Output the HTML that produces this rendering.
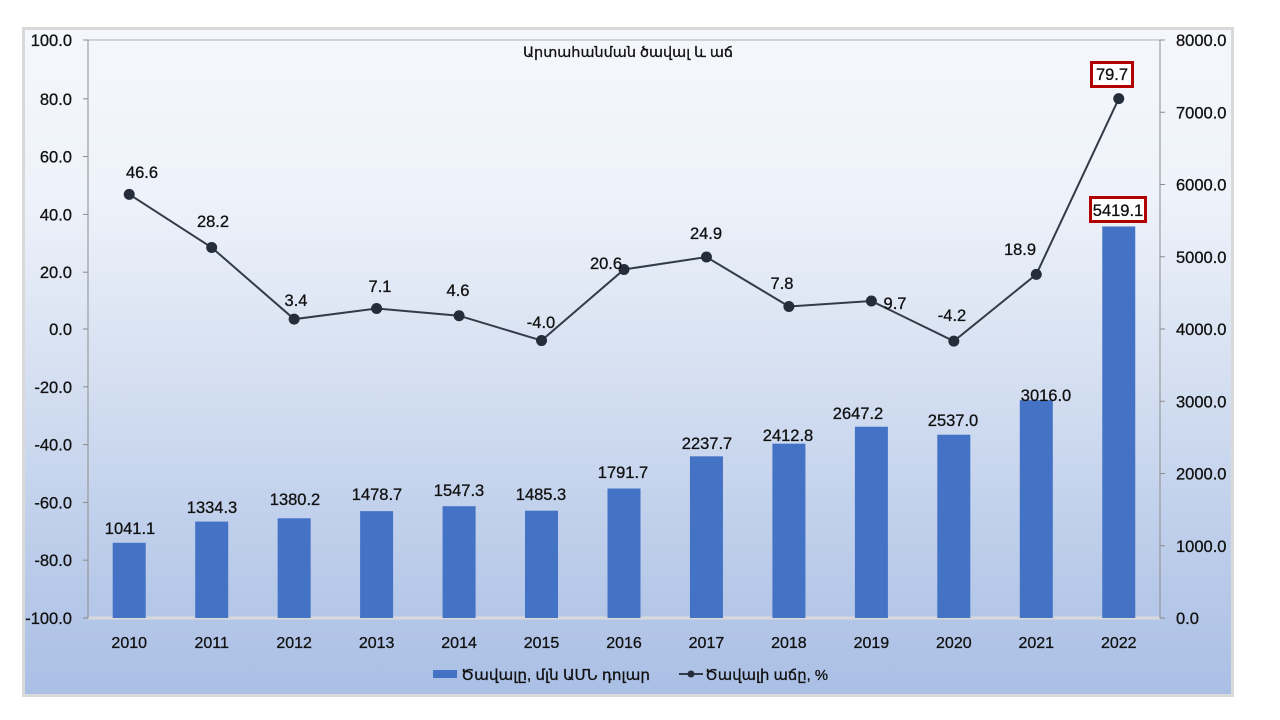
<!DOCTYPE html>
<html>
<head>
<meta charset="utf-8">
<style>
  html,body{margin:0;padding:0;background:#ffffff;}
  svg{display:block;}
  text{font-family:"Liberation Sans","DejaVu Sans",sans-serif;fill:#111;stroke:#111;stroke-width:0.3;}
</style>
</head>
<body>
<svg width="1280" height="720" viewBox="0 0 1280 720" xmlns="http://www.w3.org/2000/svg">
  <defs>
    <linearGradient id="bg" x1="0" y1="0" x2="0" y2="1">
      <stop offset="0" stop-color="#f5f7fc"/>
      <stop offset="0.25" stop-color="#eef2fa"/>
      <stop offset="0.5" stop-color="#d7e1f2"/>
      <stop offset="0.75" stop-color="#bfcfeb"/>
      <stop offset="1" stop-color="#aabfe5"/>
    </linearGradient>
  </defs>
  <rect x="0" y="0" width="1280" height="720" fill="#ffffff"/>
  <rect x="23.5" y="28.5" width="1209" height="667" fill="url(#bg)" stroke="#d9d9d9" stroke-width="3"/>

  <!-- plot borders -->
  <line x1="88" y1="40" x2="1160" y2="40" stroke="#d3d3d3" stroke-width="2"/>
  <line x1="88" y1="618" x2="1160" y2="618" stroke="#d9d9d9" stroke-width="3"/>
  <line x1="88" y1="40" x2="88" y2="618" stroke="#8c8c8c" stroke-width="1"/>
  <line x1="1160" y1="40" x2="1160" y2="618" stroke="#8c8c8c" stroke-width="1"/>

  <!-- ticks -->
  <g stroke="#8c8c8c" stroke-width="1">
    <line x1="83" y1="40" x2="88" y2="40"/>
    <line x1="83" y1="98.8" x2="88" y2="98.8"/>
    <line x1="83" y1="156.6" x2="88" y2="156.6"/>
    <line x1="83" y1="214.4" x2="88" y2="214.4"/>
    <line x1="83" y1="272.2" x2="88" y2="272.2"/>
    <line x1="83" y1="329" x2="88" y2="329"/>
    <line x1="83" y1="386.8" x2="88" y2="386.8"/>
    <line x1="83" y1="444.6" x2="88" y2="444.6"/>
    <line x1="83" y1="502.4" x2="88" y2="502.4"/>
    <line x1="83" y1="560.2" x2="88" y2="560.2"/>
    <line x1="83" y1="618" x2="88" y2="618"/>
    <line x1="1160" y1="40" x2="1165" y2="40"/>
    <line x1="1160" y1="112.25" x2="1165" y2="112.25"/>
    <line x1="1160" y1="184.5" x2="1165" y2="184.5"/>
    <line x1="1160" y1="256.75" x2="1165" y2="256.75"/>
    <line x1="1160" y1="329" x2="1165" y2="329"/>
    <line x1="1160" y1="401.25" x2="1165" y2="401.25"/>
    <line x1="1160" y1="473.5" x2="1165" y2="473.5"/>
    <line x1="1160" y1="545.75" x2="1165" y2="545.75"/>
    <line x1="1160" y1="618" x2="1165" y2="618"/>
  </g>

  <!-- left axis labels -->
  <g font-size="16.5" text-anchor="end">
    <text x="72" y="46">100.0</text>
    <text x="72" y="104.8">80.0</text>
    <text x="72" y="162.6">60.0</text>
    <text x="72" y="220.4">40.0</text>
    <text x="72" y="278.2">20.0</text>
    <text x="72" y="335">0.0</text>
    <text x="72" y="392.8">-20.0</text>
    <text x="72" y="450.6">-40.0</text>
    <text x="72" y="508.4">-60.0</text>
    <text x="72" y="566.2">-80.0</text>
    <text x="72" y="624">-100.0</text>
  </g>
  <!-- right axis labels -->
  <g font-size="16.5" text-anchor="start">
    <text x="1176" y="46">8000.0</text>
    <text x="1176" y="118.25">7000.0</text>
    <text x="1176" y="190.5">6000.0</text>
    <text x="1176" y="262.75">5000.0</text>
    <text x="1176" y="335">4000.0</text>
    <text x="1176" y="407.25">3000.0</text>
    <text x="1176" y="479.5">2000.0</text>
    <text x="1176" y="551.75">1000.0</text>
    <text x="1176" y="624">0.0</text>
  </g>

  <!-- title -->
  <text x="628" y="57" font-size="14.5" text-anchor="middle" textLength="210" lengthAdjust="spacingAndGlyphs">Արտահանման ծավալ և աճ</text>

  <!-- bars -->
  <g fill="#4472c4">
    <rect x="112.7" y="542.78" width="33" height="75.22"/>
    <rect x="195.2" y="521.60" width="33" height="96.40"/>
    <rect x="277.65" y="518.28" width="33" height="99.72"/>
    <rect x="360.1" y="511.16" width="33" height="106.84"/>
    <rect x="442.6" y="506.21" width="33" height="111.79"/>
    <rect x="525.0" y="510.69" width="33" height="107.31"/>
    <rect x="607.5" y="488.55" width="33" height="129.45"/>
    <rect x="689.95" y="456.33" width="33" height="161.67"/>
    <rect x="772.4" y="443.68" width="33" height="174.32"/>
    <rect x="854.9" y="426.74" width="33" height="191.26"/>
    <rect x="937.3" y="434.70" width="33" height="183.30"/>
    <rect x="1019.8" y="400.10" width="33" height="217.90"/>
    <rect x="1102.25" y="226.47" width="33" height="391.53"/>
  </g>

  <!-- bar labels -->
  <g font-size="16.5" text-anchor="middle">
    <text x="130" y="534">1041.1</text>
    <text x="212" y="513">1334.3</text>
    <text x="295" y="505">1380.2</text>
    <text x="377" y="500">1478.7</text>
    <text x="459" y="496">1547.3</text>
    <text x="541" y="500">1485.3</text>
    <text x="623" y="478">1791.7</text>
    <text x="707" y="449">2237.7</text>
    <text x="788" y="441">2412.8</text>
    <text x="858" y="419">2647.2</text>
    <text x="953" y="426">2537.0</text>
    <text x="1046" y="401">3016.0</text>
  </g>

  <!-- line -->
  <polyline fill="none" stroke="#333a48" stroke-width="2"
    points="129.23,194.33 211.69,247.5 294.15,319.17 376.61,308.48 459.07,315.71 541.53,340.56 623.99,269.47 706.45,257.04 788.91,306.46 871.37,300.97 953.83,341.14 1036.29,274.38 1118.75,98.67"/>
  <g fill="#252c3a">
    <circle cx="129.23" cy="194.33" r="5.5"/>
    <circle cx="211.69" cy="247.5" r="5.5"/>
    <circle cx="294.15" cy="319.17" r="5.5"/>
    <circle cx="376.61" cy="308.48" r="5.5"/>
    <circle cx="459.07" cy="315.71" r="5.5"/>
    <circle cx="541.53" cy="340.56" r="5.5"/>
    <circle cx="623.99" cy="269.47" r="5.5"/>
    <circle cx="706.45" cy="257.04" r="5.5"/>
    <circle cx="788.91" cy="306.46" r="5.5"/>
    <circle cx="871.37" cy="300.97" r="5.5"/>
    <circle cx="953.83" cy="341.14" r="5.5"/>
    <circle cx="1036.29" cy="274.38" r="5.5"/>
    <circle cx="1118.75" cy="98.67" r="5.5"/>
  </g>

  <!-- line labels -->
  <g font-size="16.5" text-anchor="middle">
    <text x="142" y="178">46.6</text>
    <text x="213" y="227">28.2</text>
    <text x="296" y="306">3.4</text>
    <text x="380" y="292">7.1</text>
    <text x="458" y="296">4.6</text>
    <text x="541" y="328">-4.0</text>
    <text x="606" y="269">20.6</text>
    <text x="706" y="239">24.9</text>
    <text x="782" y="289">7.8</text>
    <text x="895" y="309">9.7</text>
    <text x="952" y="321">-4.2</text>
    <text x="1020" y="255">18.9</text>
  </g>

  <!-- highlighted labels -->
  <rect x="1091.5" y="62.5" width="41" height="24" fill="#ffffff" stroke="#b20000" stroke-width="3"/>
  <text x="1112" y="80" font-size="16.5" text-anchor="middle">79.7</text>
  <rect x="1090.5" y="197.5" width="55" height="24" fill="#ffffff" stroke="#b20000" stroke-width="3"/>
  <text x="1118" y="216" font-size="16.5" text-anchor="middle">5419.1</text>

  <!-- x labels -->
  <g font-size="16" text-anchor="middle">
    <text x="129.23" y="648">2010</text>
    <text x="211.69" y="648">2011</text>
    <text x="294.15" y="648">2012</text>
    <text x="376.61" y="648">2013</text>
    <text x="459.07" y="648">2014</text>
    <text x="541.53" y="648">2015</text>
    <text x="623.99" y="648">2016</text>
    <text x="706.45" y="648">2017</text>
    <text x="788.91" y="648">2018</text>
    <text x="871.37" y="648">2019</text>
    <text x="953.83" y="648">2020</text>
    <text x="1036.29" y="648">2021</text>
    <text x="1118.75" y="648">2022</text>
  </g>

  <!-- legend -->
  <rect x="433" y="670" width="24" height="8" fill="#4472c4"/>
  <text x="461" y="680" font-size="15" textLength="189" lengthAdjust="spacingAndGlyphs">Ծավալը, մլն ԱՄՆ դոլար</text>
  <line x1="679" y1="674" x2="703" y2="674" stroke="#333a48" stroke-width="2"/>
  <circle cx="691" cy="674" r="3.5" fill="#252c3a"/>
  <text x="705" y="680" font-size="15" textLength="123" lengthAdjust="spacingAndGlyphs">Ծավալի աճը, %</text>
</svg>
</body>
</html>
